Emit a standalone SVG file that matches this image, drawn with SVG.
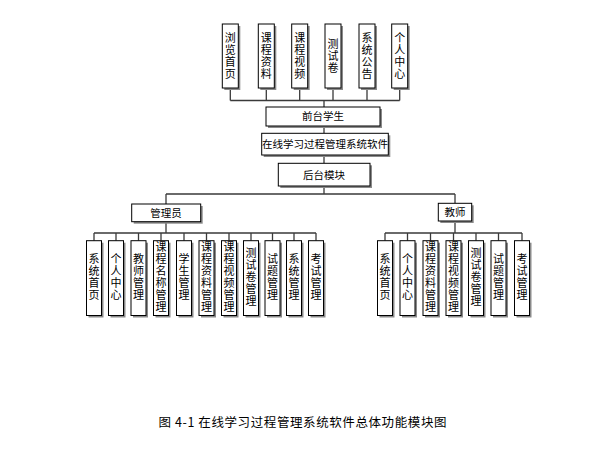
<svg xmlns="http://www.w3.org/2000/svg" width="607" height="454" viewBox="0 0 607 454">
<defs>
<style>
.box{fill:#fff;stroke:#000;stroke-width:1}
.sh{fill:#8a8a8a}
.t{font-family:"Noto Sans CJK SC","Liberation Sans",sans-serif;font-size:11px;fill:#000;writing-mode:vertical-rl;text-anchor:middle;letter-spacing:1px}
.h{font-family:"Noto Sans CJK SC","Liberation Sans",sans-serif;font-size:10.5px;fill:#000;text-anchor:middle}
.cap{font-family:"Noto Sans CJK SC","Liberation Sans",sans-serif;font-size:12.5px;fill:#000}
.c{fill:none;stroke:#3a3a3a;stroke-width:1.3}
</style>
</defs>
<rect width="607" height="454" fill="#fff"/>
<g id="connectors">
<path class="c" d="M230.3 88V100.5M266.3 88V100.5M299.7 88V100.5M333 88V100.5M367 88V100.5M399.7 88V100.5M230.3 100.5H399.7M324 100.5V107"/>
<path class="c" d="M324 126V133.3M324 155V163.3M324 186V194M166 194H455M166 194V204M455 194V203.5"/>
<path class="c" d="M166 221.7V233M94 233H316M94 233V240.7M116 233V240.7M138.5 233V240.7M161 233V240.7M184 233V240.7M206.5 233V240.7M229 233V240.7M251 233V240.7M272.5 233V240.7M294 233V240.7M316 233V240.7"/>
<path class="c" d="M455 221V233M385 233H522M385 233V240.7M407.5 233V240.7M430.5 233V240.7M453.5 233V240.7M476 233V240.7M498.5 233V240.7M522 233V240.7"/>
</g>
<g id="top1"><rect class="sh" x="224.3" y="26" width="16" height="64"/><rect class="box" x="222.3" y="24" width="16" height="64"/><text class="t" x="230.3" y="56">浏览首页</text></g>
<g id="top2"><rect class="sh" x="260.3" y="26" width="16" height="64"/><rect class="box" x="258.3" y="24" width="16" height="64"/><text class="t" x="266.3" y="56">课程资料</text></g>
<g id="top3"><rect class="sh" x="293.7" y="26" width="16" height="64"/><rect class="box" x="291.7" y="24" width="16" height="64"/><text class="t" x="299.7" y="56">课程视频</text></g>
<g id="top4"><rect class="sh" x="327" y="26" width="16" height="64"/><rect class="box" x="325" y="24" width="16" height="64"/><text class="t" x="333" y="56">测试卷</text></g>
<g id="top5"><rect class="sh" x="361" y="26" width="16" height="64"/><rect class="box" x="359" y="24" width="16" height="64"/><text class="t" x="367" y="56">系统公告</text></g>
<g id="top6"><rect class="sh" x="393.7" y="26" width="16" height="64"/><rect class="box" x="391.7" y="24" width="16" height="64"/><text class="t" x="399.7" y="56">个人中心</text></g>
<g id="front"><rect class="sh" x="268" y="109" width="114" height="19"/><rect class="box" x="266" y="107" width="114" height="19"/><text class="h" x="323" y="120.3">前台学生</text></g>
<g id="system"><rect class="sh" x="263.7" y="135.3" width="126.6" height="21.7"/><rect class="box" x="261.7" y="133.3" width="126.6" height="21.7"/><text class="h" x="325" y="147.9">在线学习过程管理系统软件</text></g>
<g id="back"><rect class="sh" x="280.3" y="165.3" width="91.7" height="22.7"/><rect class="box" x="278.3" y="163.3" width="91.7" height="22.7"/><text class="h" x="324" y="178.6">后台模块</text></g>
<g id="admin"><rect class="sh" x="133.7" y="206" width="69" height="17.7"/><rect class="box" x="131.7" y="204" width="69" height="17.7"/><text class="h" x="166" y="216.7">管理员</text></g>
<g id="teacher"><rect class="sh" x="440.3" y="205.3" width="33.4" height="17.7"/><rect class="box" x="438.3" y="203.3" width="33.4" height="17.7"/><text class="h" x="455" y="216">教师</text></g>
<g id="a1"><rect class="sh" x="88.5" y="242.7" width="15" height="74.8"/><rect class="box" x="86.5" y="240.7" width="15" height="74.8"/><text class="t" x="94" y="277">系统首页</text></g>
<g id="a2"><rect class="sh" x="110.5" y="242.7" width="15" height="74.8"/><rect class="box" x="108.5" y="240.7" width="15" height="74.8"/><text class="t" x="116" y="277">个人中心</text></g>
<g id="a3"><rect class="sh" x="133" y="242.7" width="15" height="74.8"/><rect class="box" x="131" y="240.7" width="15" height="74.8"/><text class="t" x="138.5" y="277">教师管理</text></g>
<g id="a4"><rect class="sh" x="155.5" y="242.7" width="15" height="74.8"/><rect class="box" x="153.5" y="240.7" width="15" height="74.8"/><text class="t" x="161" y="277">课程名称管理</text></g>
<g id="a5"><rect class="sh" x="178.5" y="242.7" width="15" height="74.8"/><rect class="box" x="176.5" y="240.7" width="15" height="74.8"/><text class="t" x="184" y="277">学生管理</text></g>
<g id="a6"><rect class="sh" x="201" y="242.7" width="15" height="74.8"/><rect class="box" x="199" y="240.7" width="15" height="74.8"/><text class="t" x="206.5" y="277">课程资料管理</text></g>
<g id="a7"><rect class="sh" x="223.5" y="242.7" width="15" height="74.8"/><rect class="box" x="221.5" y="240.7" width="15" height="74.8"/><text class="t" x="229" y="277">课程视频管理</text></g>
<g id="a8"><rect class="sh" x="245.5" y="242.7" width="15" height="74.8"/><rect class="box" x="243.5" y="240.7" width="15" height="74.8"/><text class="t" x="251" y="277">测试卷管理</text></g>
<g id="a9"><rect class="sh" x="267" y="242.7" width="15" height="74.8"/><rect class="box" x="265" y="240.7" width="15" height="74.8"/><text class="t" x="272.5" y="277">试题管理</text></g>
<g id="a10"><rect class="sh" x="288.5" y="242.7" width="15" height="74.8"/><rect class="box" x="286.5" y="240.7" width="15" height="74.8"/><text class="t" x="294" y="277">系统管理</text></g>
<g id="a11"><rect class="sh" x="310.5" y="242.7" width="15" height="74.8"/><rect class="box" x="308.5" y="240.7" width="15" height="74.8"/><text class="t" x="316" y="277">考试管理</text></g>
<g id="t1"><rect class="sh" x="379.5" y="242.7" width="15" height="74.8"/><rect class="box" x="377.5" y="240.7" width="15" height="74.8"/><text class="t" x="385" y="277">系统首页</text></g>
<g id="t2"><rect class="sh" x="402" y="242.7" width="15" height="74.8"/><rect class="box" x="400" y="240.7" width="15" height="74.8"/><text class="t" x="407.5" y="277">个人中心</text></g>
<g id="t3"><rect class="sh" x="425" y="242.7" width="15" height="74.8"/><rect class="box" x="423" y="240.7" width="15" height="74.8"/><text class="t" x="430.5" y="277">课程资料管理</text></g>
<g id="t4"><rect class="sh" x="448" y="242.7" width="15" height="74.8"/><rect class="box" x="446" y="240.7" width="15" height="74.8"/><text class="t" x="453.5" y="277">课程视频管理</text></g>
<g id="t5"><rect class="sh" x="470.5" y="242.7" width="15" height="74.8"/><rect class="box" x="468.5" y="240.7" width="15" height="74.8"/><text class="t" x="476" y="277">测试卷管理</text></g>
<g id="t6"><rect class="sh" x="493" y="242.7" width="15" height="74.8"/><rect class="box" x="491" y="240.7" width="15" height="74.8"/><text class="t" x="498.5" y="277">试题管理</text></g>
<g id="t7"><rect class="sh" x="516.5" y="242.7" width="15" height="74.8"/><rect class="box" x="514.5" y="240.7" width="15" height="74.8"/><text class="t" x="522" y="277">考试管理</text></g>
<text class="cap" x="158.5" y="427" textLength="288" lengthAdjust="spacing">图 4-1 在线学习过程管理系统软件总体功能模块图</text>
</svg>
